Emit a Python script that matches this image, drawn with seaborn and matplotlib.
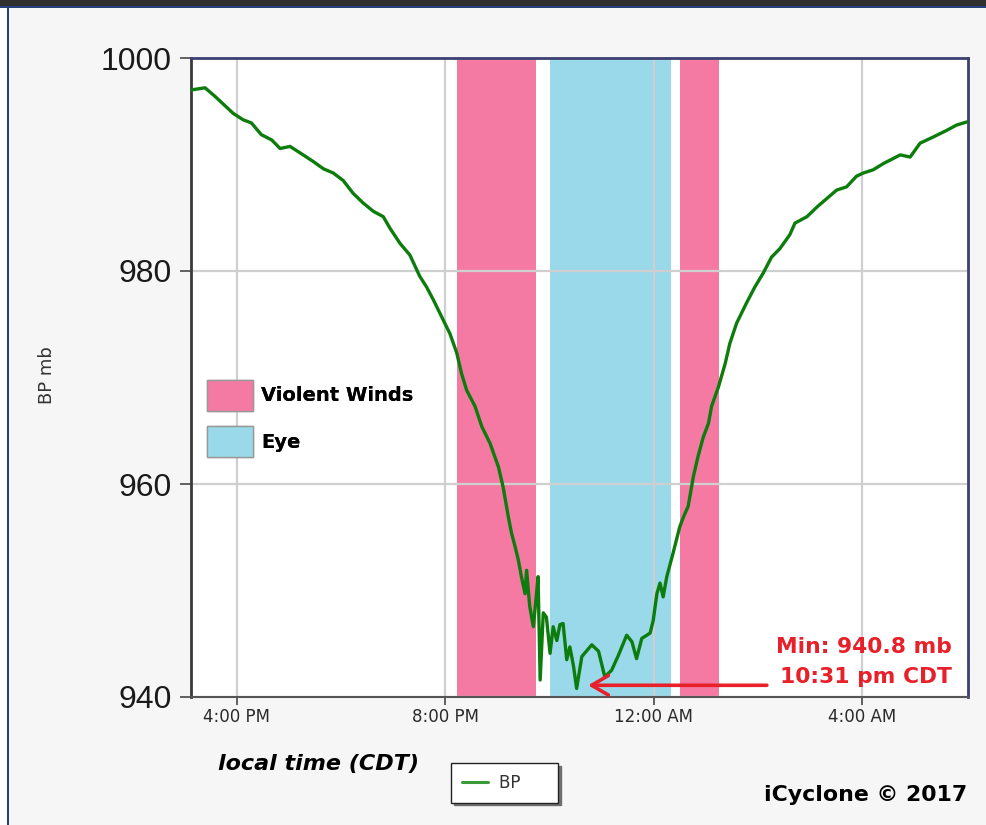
import matplotlib
matplotlib.use("Agg")
import matplotlib.pyplot as plt
from matplotlib.patches import Patch, Rectangle
from matplotlib.lines import Line2D
import pandas as pd
import seaborn as sns

# ---- data (hours since midnight of the first day; 24 = 12:00 AM) ----
time_h = [15.12, 15.39, 15.58, 15.93, 16.12, 16.28, 16.47, 16.67, 16.83, 17.02,
          17.21, 17.46, 17.66, 17.85, 18.04, 18.23, 18.42, 18.62, 18.81, 18.94,
          19.13, 19.32, 19.51, 19.64, 19.77, 19.93, 20.09, 20.22, 20.31, 20.41,
          20.57, 20.70, 20.86, 21.02, 21.11, 21.21, 21.27, 21.34, 21.40, 21.46,
          21.53, 21.56, 21.62, 21.69, 21.75, 21.78, 21.82, 21.88, 21.94, 22.01,
          22.07, 22.14, 22.20, 22.26, 22.33, 22.39, 22.46, 22.52, 22.62, 22.81,
          22.94, 23.06, 23.19, 23.32, 23.48, 23.58, 23.67, 23.77, 23.93, 23.99,
          24.06, 24.12, 24.18, 24.25, 24.37, 24.50, 24.57, 24.66, 24.76, 24.85,
          24.95, 25.05, 25.11, 25.24, 25.37, 25.46, 25.59, 25.78, 25.94, 26.10,
          26.26, 26.42, 26.61, 26.71, 26.94, 27.13, 27.32, 27.51, 27.70, 27.89,
          28.02, 28.21, 28.41, 28.73, 28.92, 29.11, 29.37, 29.62, 29.81, 30.01]
pressure_mb = [997.0, 997.2, 996.4, 994.8, 994.2, 993.9, 992.8, 992.3, 991.5, 991.7,
               991.1, 990.3, 989.6, 989.2, 988.5, 987.3, 986.4, 985.6, 985.1, 984.0,
               982.6, 981.5, 979.5, 978.5, 977.3, 975.7, 974.1, 972.3, 970.4, 968.8,
               967.3, 965.4, 963.8, 961.6, 959.7, 956.9, 955.4, 954.1, 952.9, 951.3,
               949.7, 951.9, 948.5, 946.6, 949.7, 951.3, 941.6, 947.9, 947.5, 944.1,
               946.6, 945.3, 946.8, 946.9, 943.5, 944.7, 942.9, 940.8, 943.8, 944.9,
               944.3, 941.9, 942.5, 943.9, 945.8, 945.2, 943.6, 945.5, 946.0, 947.2,
               949.7, 950.7, 949.4, 951.3, 953.5, 956.0, 956.9, 957.9, 960.7, 962.6,
               964.4, 965.7, 967.3, 969.1, 971.3, 973.2, 975.1, 977.0, 978.5, 979.8,
               981.3, 982.1, 983.4, 984.5, 985.1, 986.0, 986.8, 987.6, 987.9, 988.9,
               989.2, 989.5, 990.1, 990.9, 990.7, 992.0, 992.6, 993.2, 993.7, 994.0]
violent_winds = [(20.23, 21.74), (24.50, 25.25)]
eye = [(22.00, 24.34)]
x_ticks = [16, 20, 24, 28]
x_tick_labels = ["4:00 PM", "8:00 PM", "12:00 AM", "4:00 AM"]
y_ticks = [940, 960, 980, 1000]
min_time_label = "10:31 pm CDT"
arrow_tip = (22.74, 941.1)
arrow_tail = (26.17, 941.1)

PINK = "#f57aa3"
BLUE = "#9ad9e9"
GREEN = "#0c7c0c"
RED = "#e8202a"

sns.set_theme(style="white")
plt.rcParams["font.family"] = ["DejaVu Sans"]

W, H = 987, 825
fig = plt.figure(figsize=(W / 100, H / 100), dpi=100, facecolor="#f6f6f6")
ax = fig.add_axes([191 / W, 1 - 697 / H, (968 - 191) / W, (697 - 58) / H])
ax.set_facecolor("white")

# window frame decorations
fig.patches.append(Rectangle((0, 1 - 6 / H), 1, 6 / H, transform=fig.transFigure,
                             facecolor="#2f2f2f", edgecolor="none", zorder=0))
fig.patches.append(Rectangle((0, 1 - 8 / H), 1, 2 / H, transform=fig.transFigure,
                             facecolor="#24407a", edgecolor="none", zorder=0))
fig.patches.append(Rectangle((0, 0), 7 / W, 1 - 8 / H, transform=fig.transFigure,
                             facecolor="white", edgecolor="none", zorder=0))
fig.patches.append(Rectangle((7 / W, 0), 1.5 / W, 1 - 8 / H, transform=fig.transFigure,
                             facecolor="#24407a", edgecolor="none", zorder=0))

for a, b in violent_winds:
    ax.axvspan(a, b, color=PINK, lw=0, zorder=0.2)
for a, b in eye:
    ax.axvspan(a, b, color=BLUE, lw=0, zorder=0.2)

df = pd.DataFrame({"time": time_h, "BP": pressure_mb})
sns.lineplot(data=df, x="time", y="BP", ax=ax, color=GREEN, lw=2.4,
             estimator=None, sort=False, zorder=3, legend=False)

ax.set_xlim(15.12, 30.03)
ax.set_ylim(940, 1000)
ax.set_xticks(x_ticks)
ax.set_xticklabels(x_tick_labels)
ax.set_yticks(y_ticks)
ax.set_axisbelow(True)
ax.grid(True, color="#cfcfcf", lw=1.6)

ax.tick_params(axis="y", left=True, length=8, width=1.3, color="#555555", pad=6,
               labelsize=23, labelcolor="#1a1a1a")
ax.tick_params(axis="x", bottom=True, length=6, width=1.3, color="#555555", pad=2,
               labelsize=12, labelcolor="#2a2a2a")
for lab in ax.get_yticklabels():
    lab.set_fontfamily(["Liberation Sans", "DejaVu Sans"])

ax.spines["left"].set_color("#3a3a3a")
ax.spines["left"].set_linewidth(2)
ax.spines["bottom"].set_color("#555555")
ax.spines["bottom"].set_linewidth(1.5)
for s in ("top", "right"):
    ax.spines[s].set_color("#3c4070")
    ax.spines[s].set_linewidth(2)

ax.set_ylabel("BP mb", fontsize=13, color="#333333")
ax.yaxis.set_label_coords(-0.174, 0.504)
ax.set_xlabel("local time (CDT)", fontsize=16, fontweight="bold", fontstyle="italic",
              color="black")
ax.xaxis.set_label_coords(0.1647, -0.089)

# band legend
leg1 = ax.legend(handles=[Patch(facecolor=PINK, edgecolor="#999999", label="Violent Winds"),
                          Patch(facecolor=BLUE, edgecolor="#999999", label="Eye")],
                 loc="upper left", bbox_to_anchor=(207 / W, 1 - 380 / H),
                 bbox_transform=fig.transFigure, frameon=False,
                 prop=dict(weight="bold", size=14), labelcolor="black",
                 handlelength=2.35, handleheight=2.05,
                 handletextpad=0.45, labelspacing=0.8, borderpad=0, borderaxespad=0)
ax.add_artist(leg1)

# series legend
fig.legend(handles=[Line2D([], [], color="#3a9a3a", lw=2.2, label="BP     ")],
           loc="upper left", bbox_to_anchor=(451 / W, 1 - 763 / H),
           bbox_transform=fig.transFigure, frameon=True, fancybox=False,
           edgecolor="#222222", facecolor="white", framealpha=1,
           shadow={"color": "#666666", "alpha": 0.9},
           prop=dict(size=12), labelcolor="#333333",
           handlelength=1.6, handletextpad=0.65, borderpad=0.65, borderaxespad=0)

# minimum annotation
ax.annotate("", xy=arrow_tip, xytext=arrow_tail,
            arrowprops=dict(arrowstyle="->,head_length=0.6,head_width=0.35",
                            color=RED, lw=2.6, mutation_scale=20,
                            shrinkA=0, shrinkB=0), zorder=5)
fig.text(952 / W, 1 - 646.7 / H, f"Min: {min(pressure_mb):.1f} mb", ha="right",
         va="center", color=RED, fontsize=15.7, fontweight="bold")
fig.text(952 / W, 1 - 677.3 / H, min_time_label, ha="right", va="center",
         color=RED, fontsize=15.7, fontweight="bold")

fig.text(967 / W, 1 - 795 / H, "iCyclone © 2017", ha="right", va="center",
         color="black", fontsize=15.8, fontweight="bold")

fig.savefig("out.png", dpi=100, facecolor=fig.get_facecolor())
